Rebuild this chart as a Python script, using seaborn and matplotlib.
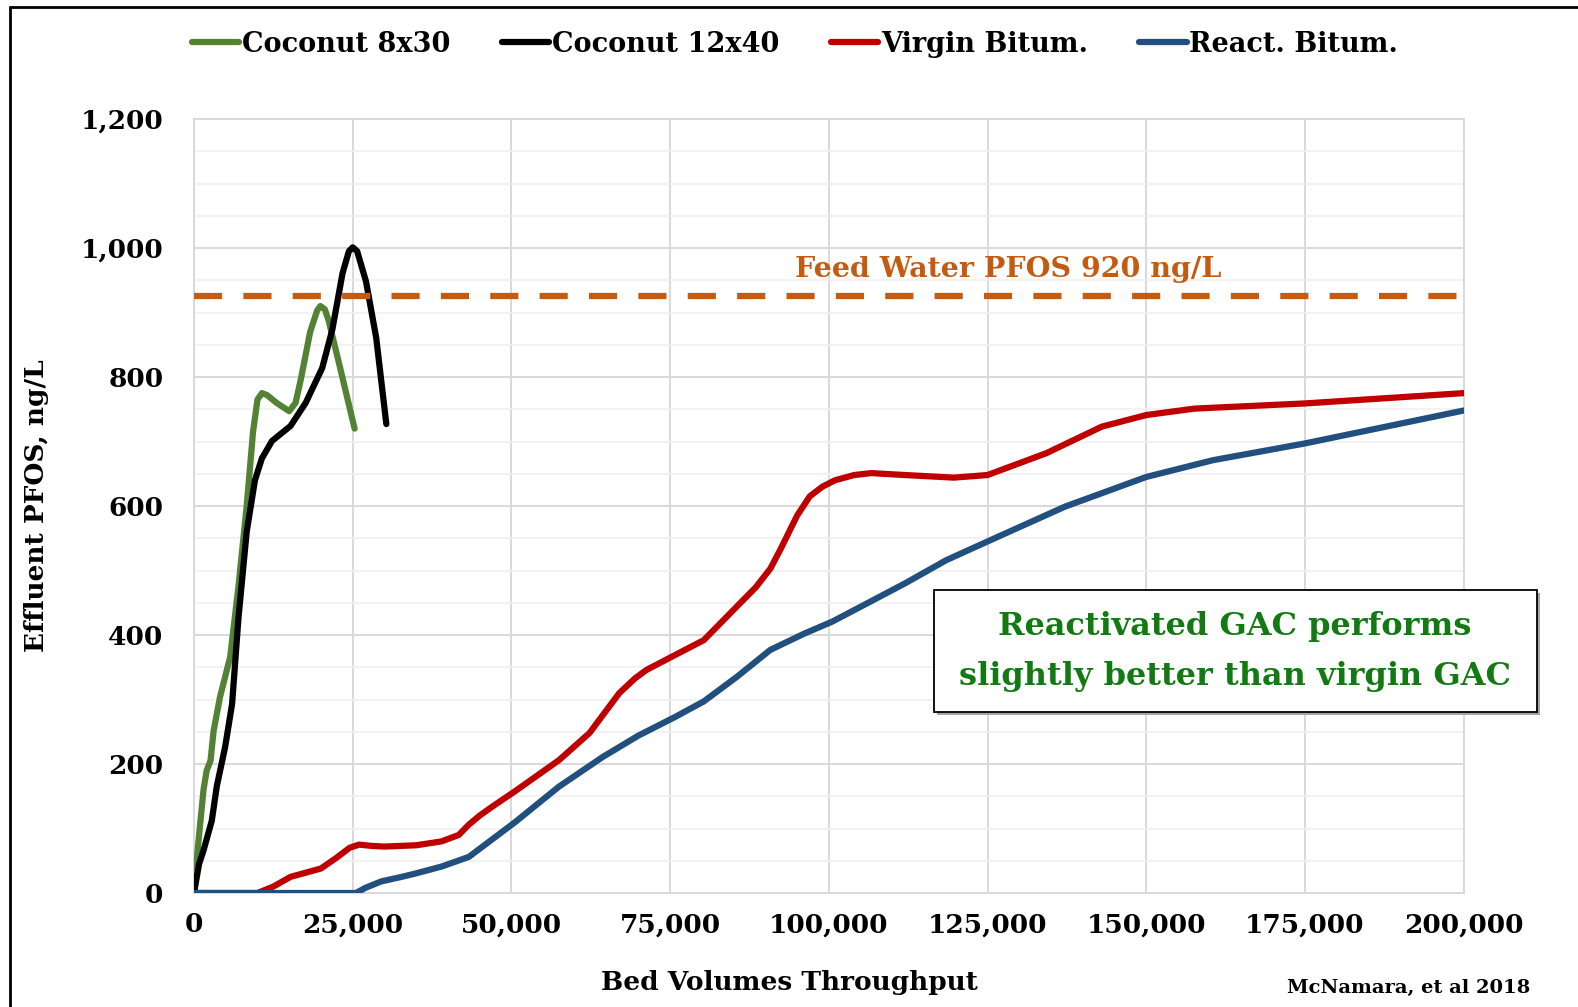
import numpy as np
import pandas as pd
import matplotlib
matplotlib.use("Agg")
import matplotlib.pyplot as plt
from matplotlib.lines import Line2D
from matplotlib.patches import Rectangle
from matplotlib.ticker import FuncFormatter, MultipleLocator
import seaborn as sns

# ── data ──────────────────────────────────────────────────────────────
coco830_bv = [0, 700, 1500, 2000, 2600, 3100, 4100, 5700, 7000, 8300, 9300,
              10000, 10700, 11500, 13000, 15000, 16000, 16800, 18300, 19400,
              19900, 20600, 21200, 23000, 25300]
coco830_pfos = [0, 80, 160, 190, 205, 252, 304, 366, 475, 600, 715,
                765, 775, 772, 760, 747, 760, 795, 870, 903,
                910, 905, 888, 815, 720]

coco1240_bv = [0, 800, 1500, 2800, 3600, 4900, 6000, 7000, 8300, 9600, 10700,
               12300, 15200, 17600, 20200, 21800, 23400, 24400, 25000, 25700,
               27100, 28700, 30300]
coco1240_pfos = [0, 45, 66, 112, 166, 226, 293, 426, 560, 640, 674,
                 701, 724, 760, 814, 874, 961, 995, 1001, 995,
                 948, 861, 727]

virgin_bv = [0, 10000, 12500, 15200, 20000, 22500, 24500, 26000, 28000, 30000,
             35000, 39000, 41700, 43300, 45000, 47000, 50600, 57500, 62300,
             67000, 69500, 71300, 75800, 80300, 85500, 88500, 90800, 92500,
             95000, 97000, 99000, 101000, 104000, 106700, 112000, 119700,
             125000, 134300, 143000, 150000, 157600, 175000, 200000]
virgin_pfos = [0, 0, 10, 25, 38, 55, 70, 75, 73, 72,
               74, 80, 90, 106, 120, 134, 158, 206, 248,
               310, 333, 346, 369, 392, 444, 474, 503, 535,
               585, 615, 630, 640, 648, 651, 648, 644,
               648, 682, 723, 741, 751, 759, 775]

react_bv = [0, 24000, 25500, 27000, 29500, 32700, 34800, 39000, 43300, 50600,
            57500, 64400, 70000, 75800, 80300, 85500, 90800, 96100, 100600,
            112000, 118500, 125000, 137200, 150000, 160500, 175000, 200000]
react_pfos = [0, 0, 0, 8, 18, 25, 30, 41, 56, 110,
              165, 211, 244, 273, 297, 335, 377, 402, 421,
              480, 516, 545, 599, 645, 671, 697, 748]

feed_bv = [0, 200800]
feed_pfos = [925, 925]

series = ["Coconut 8x30", "Coconut 12x40", "Virgin Bitum.", "React. Bitum."]
colors = ["#548235", "#000000", "#C00000", "#22507E"]
feed_color = "#C55A11"
note_color = "#137A13"

df = pd.concat([
    pd.DataFrame({"bv": coco830_bv, "pfos": coco830_pfos, "media": series[0]}),
    pd.DataFrame({"bv": coco1240_bv, "pfos": coco1240_pfos, "media": series[1]}),
    pd.DataFrame({"bv": virgin_bv, "pfos": virgin_pfos, "media": series[2]}),
    pd.DataFrame({"bv": react_bv, "pfos": react_pfos, "media": series[3]}),
], ignore_index=True)

# ── figure ────────────────────────────────────────────────────────────
sns.set_theme(style="white")
plt.rcParams["font.family"] = ["DejaVu Serif"]
plt.rcParams["font.weight"] = "bold"
plt.rcParams["text.color"] = "black"
plt.rcParams["axes.labelcolor"] = "black"
plt.rcParams["xtick.color"] = "black"
plt.rcParams["ytick.color"] = "black"

W, H = 1578, 1007
fig = plt.figure(figsize=(W / 100, H / 100), dpi=100)
ax = fig.add_axes([194 / W, 1 - 893 / H, (1463.6 - 194) / W, (893 - 119) / H])

LW = 4.5
sns.lineplot(data=df, x="bv", y="pfos", hue="media", hue_order=series,
             palette=dict(zip(series, colors)), linewidth=LW, sort=False,
             estimator=None, legend=False, ax=ax, zorder=3,
             solid_capstyle="round", solid_joinstyle="round")
ax.plot(feed_bv, feed_pfos, color=feed_color, linewidth=LW,
        dashes=(4.5, 3.4), solid_capstyle="butt", zorder=4, clip_on=False)

ax.set_xlim(0, 200000)
ax.set_ylim(0, 1200)
ax.xaxis.set_major_locator(MultipleLocator(25000))
ax.yaxis.set_major_locator(MultipleLocator(200))
ax.yaxis.set_minor_locator(MultipleLocator(50))
ax.xaxis.set_major_formatter(FuncFormatter(lambda v, p: f"{v:,.0f}"))
ax.yaxis.set_major_formatter(FuncFormatter(lambda v, p: f"{v:,.0f}"))
ax.grid(which="major", color="#D9D9D9", linewidth=1.4, zorder=0)
ax.grid(which="minor", axis="y", color="#F0F0F0", linewidth=1.2, zorder=0)
ax.set_axisbelow(True)
for s in ax.spines.values():
    s.set_color("#D9D9D9")
    s.set_linewidth(1.4)
ax.tick_params(axis="both", which="both", length=0, labelsize=19)
ax.tick_params(axis="y", pad=22)
ax.tick_params(axis="x", pad=14)

ax.set_xlabel("Bed Volumes Throughput", fontsize=19, fontweight="bold")
ax.set_ylabel("Effluent PFOS, ng/L", fontsize=19, fontweight="bold")
ax.xaxis.set_label_coords(0.469, -0.1)
ax.yaxis.set_label_coords(-0.114, 0.5)

ax.text(128200, 966, "Feed Water PFOS 920 ng/L", color=feed_color,
        fontsize=20.5, fontweight="bold", ha="center", va="center")

# legend on top
handles = [Line2D([], [], color=c, linewidth=LW, solid_capstyle="round")
           for c in colors]
fig.legend(handles, series, loc="center", ncol=4,
           bbox_to_anchor=(795 / W, 1 - 44 / H), frameon=False,
           fontsize=19.5, handlelength=1.75, handletextpad=0.1,
           columnspacing=1.9)

# note box with shadow
bx0, bx1, by0, by1 = 934, 1537, 590, 712
fig.patches.append(Rectangle((bx0 / W + 3 / W, 1 - by1 / H - 3 / H),
                             (bx1 - bx0) / W, (by1 - by0) / H,
                             transform=fig.transFigure, facecolor="#A6A6A6",
                             edgecolor="none", zorder=5))
fig.patches.append(Rectangle((bx0 / W, 1 - by1 / H),
                             (bx1 - bx0) / W, (by1 - by0) / H,
                             transform=fig.transFigure, facecolor="white",
                             edgecolor="black", linewidth=1.3, zorder=6))
fig.text(1235 / W, 1 - 627 / H, "Reactivated GAC performs", color=note_color,
         fontsize=23, fontweight="bold", ha="center", va="center", zorder=7)
fig.text(1235 / W, 1 - 677 / H, "slightly better than virgin GAC",
         color=note_color, fontsize=23, fontweight="bold", ha="center",
         va="center", zorder=7)

fig.text(1530 / W, 1 - 988 / H, "McNamara, et al 2018", fontsize=14,
         fontweight="bold", ha="right", va="center")

# outer frame (top and left edges visible)
fig.add_artist(Line2D([10 / W, 10 / W], [0, 1 - 7 / H], transform=fig.transFigure,
                      color="black", linewidth=2))
fig.add_artist(Line2D([10 / W, 1], [1 - 7 / H, 1 - 7 / H], transform=fig.transFigure,
                      color="black", linewidth=2))

fig.savefig("out.png", dpi=100)
